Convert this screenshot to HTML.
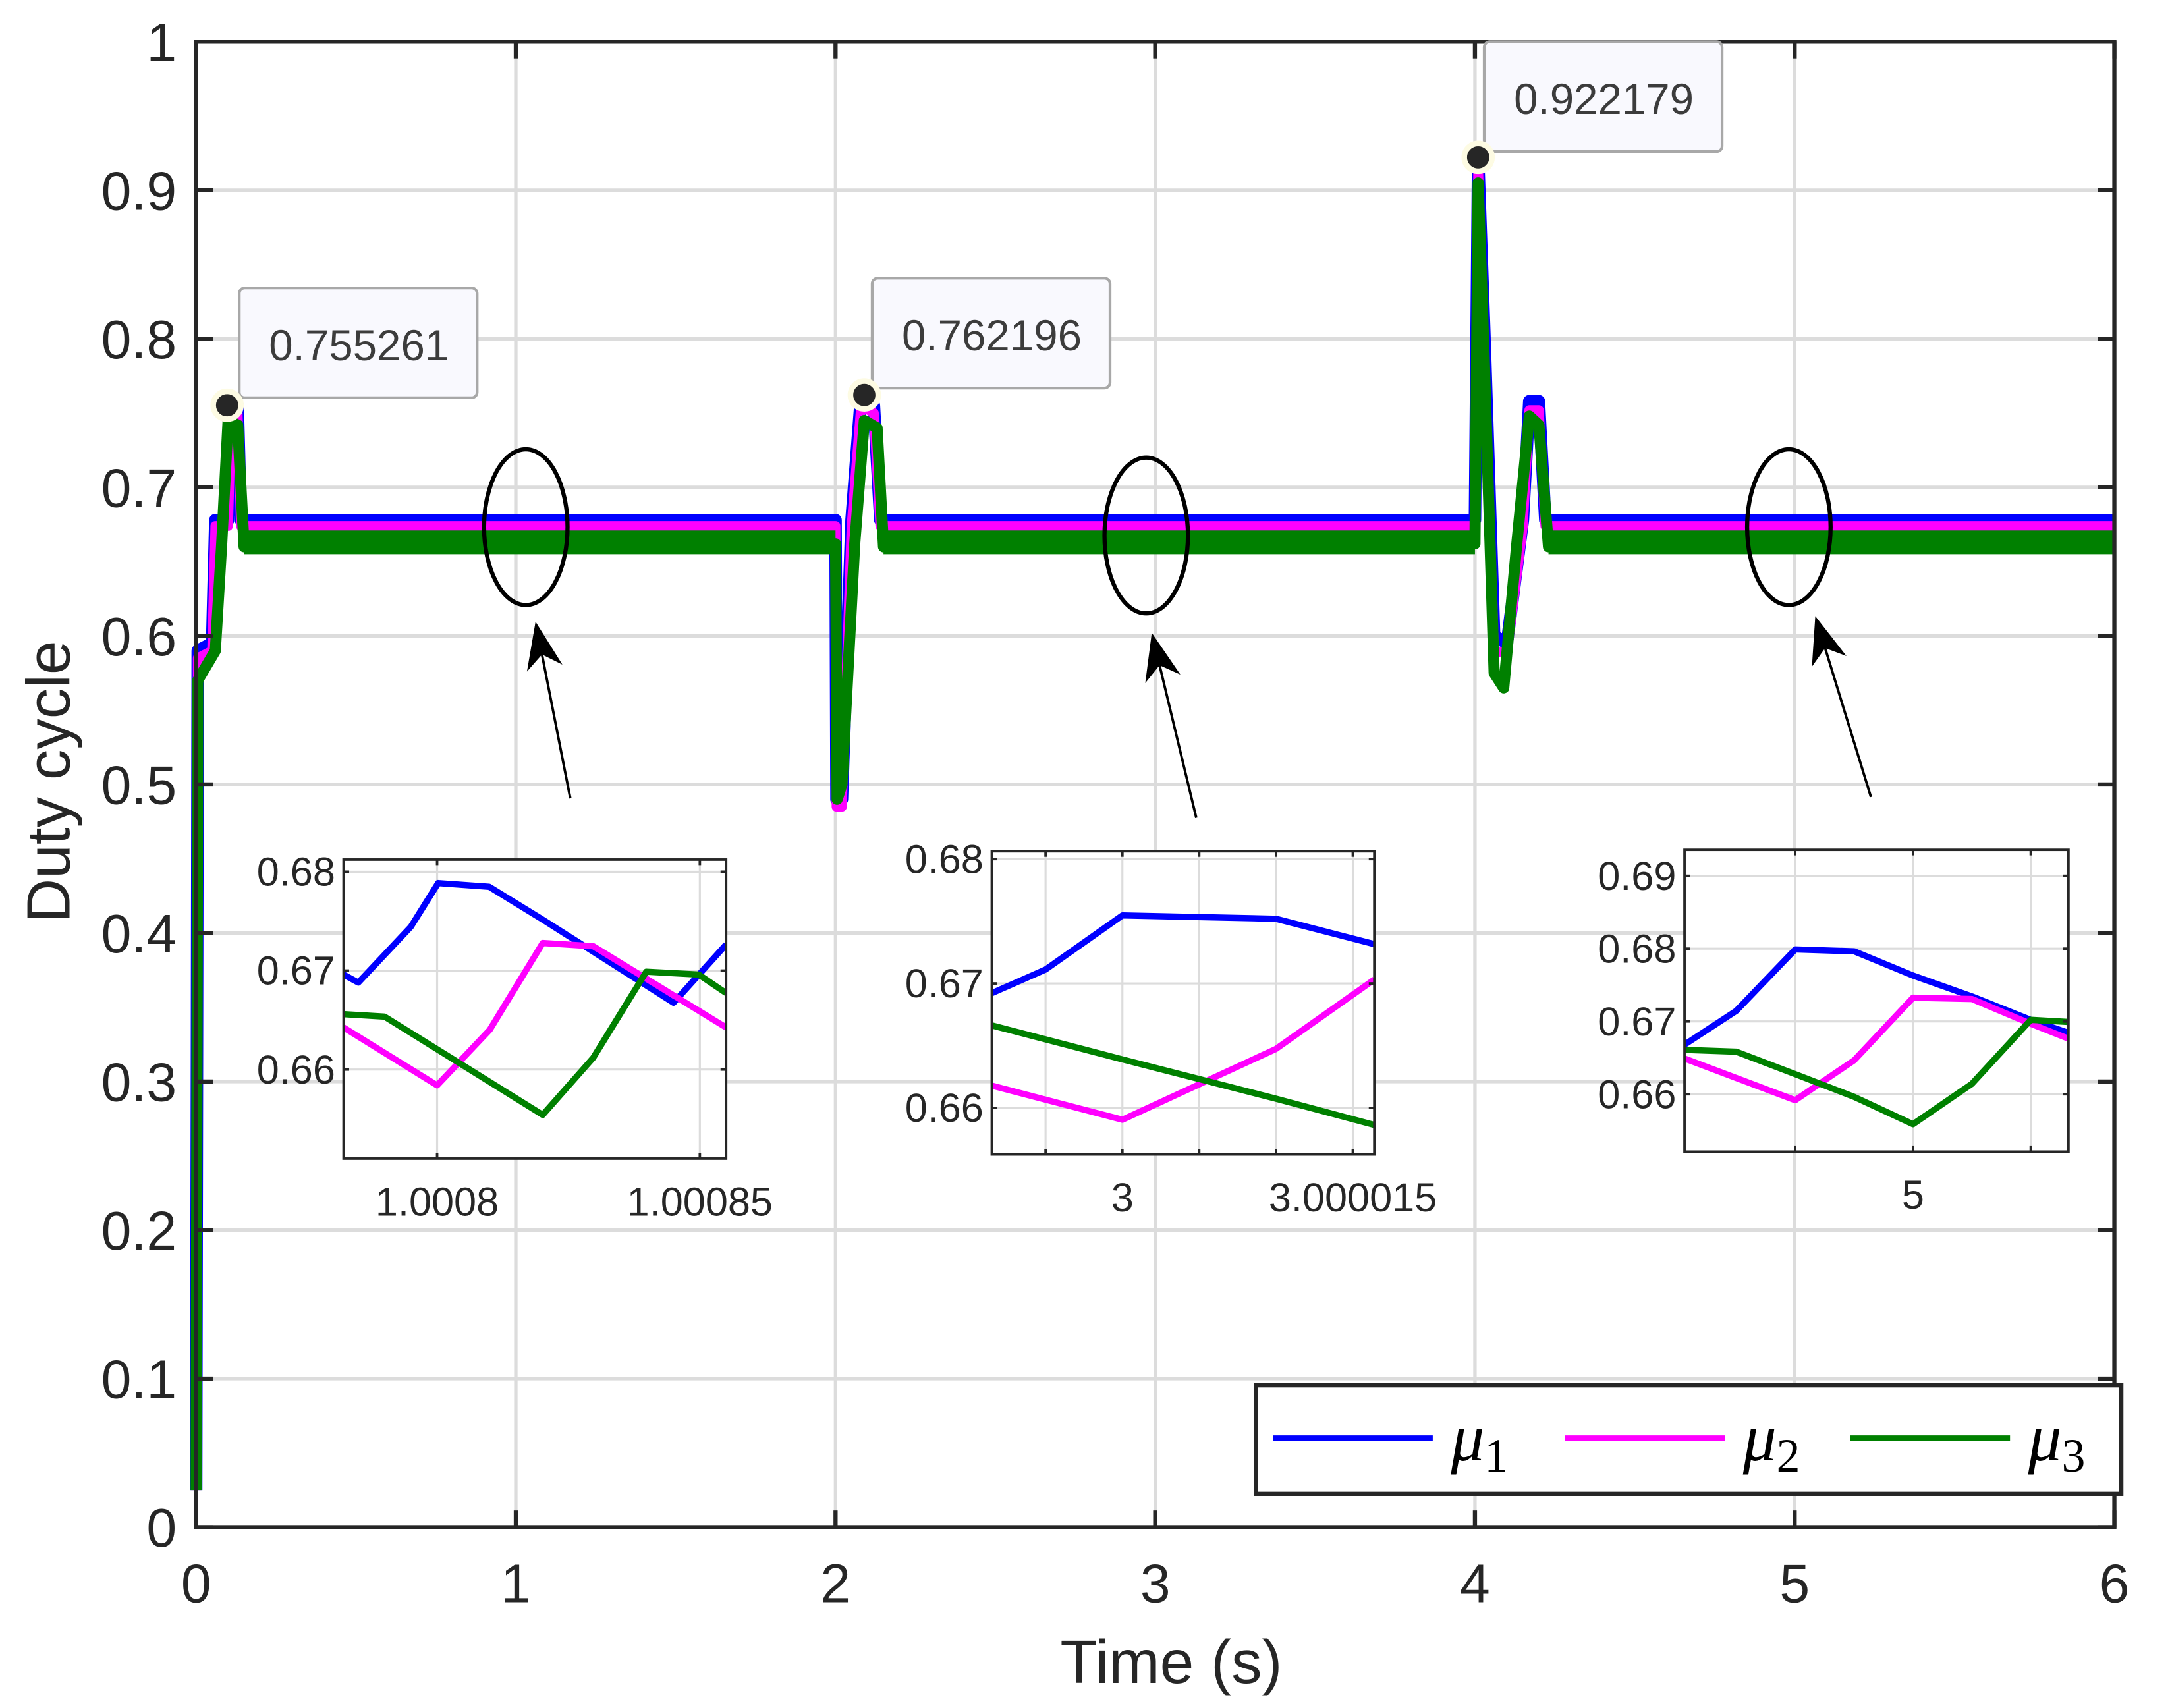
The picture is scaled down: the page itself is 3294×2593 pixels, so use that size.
<!DOCTYPE html>
<html><head><meta charset="utf-8"><style>
html,body{margin:0;padding:0;background:#fff;}
svg{display:block;font-family:"Liberation Sans",sans-serif;}
</style></head><body>
<svg id="chart" width="3294" height="2593" viewBox="0 0 1560 1228" preserveAspectRatio="none" xmlns="http://www.w3.org/2000/svg">
<rect width="1560" height="1228" fill="#fff"/>
<g id="main"></g>
<g id="insets"></g>
<g id="annot"></g>
</svg>
<script>
// ---- main chart data ----
const xTicks = [0,1,2,3,4,5,6];
const yTicks = [0,0.1,0.2,0.3,0.4,0.5,0.6,0.7,0.8,0.9,1];
const yTickLabels = ["0","0.1","0.2","0.3","0.4","0.5","0.6","0.7","0.8","0.9","1"];
const mu1T = [0,0.005,0.05,0.06,0.1,0.11,0.13,0.14,2.0,2.003,2.02,2.05,2.08,2.12,2.14,4.0,4.01,4.03,4.06,4.1,4.15,4.17,4.2,4.22,6];
const mu1V = [0.025,0.59,0.595,0.678,0.678,0.755,0.755,0.678,0.678,0.49,0.49,0.678,0.762,0.755,0.678,0.678,0.922,0.8,0.6,0.595,0.678,0.758,0.758,0.678,0.678];
const mu2T = [0,0.005,0.05,0.06,0.1,0.11,0.13,0.14,2.0,2.003,2.02,2.05,2.08,2.12,2.14,4.0,4.01,4.03,4.06,4.1,4.15,4.17,4.2,4.22,6];
const mu2V = [0.025,0.585,0.59,0.674,0.674,0.75,0.75,0.674,0.674,0.485,0.485,0.674,0.755,0.75,0.674,0.674,0.915,0.79,0.59,0.588,0.674,0.752,0.752,0.674,0.674];
const mu3T = [0,0.005,0.06,0.08,0.1,0.13,0.15,0.2,2.0,2.005,2.02,2.06,2.09,2.13,2.15,2.2,4.0,4.01,4.03,4.06,4.09,4.13,4.17,4.2,4.23,4.3,6];
const mu3V = [0.025,0.57,0.59,0.662,0.745,0.742,0.66,0.662,0.662,0.49,0.5,0.662,0.745,0.74,0.66,0.662,0.662,0.905,0.78,0.575,0.565,0.66,0.748,0.742,0.66,0.662,0.662];
// steady-state noise band of mu3
const bandStart = [0.15,2.15,4.23];
const bandEnd = [2.0,4.0,6.0];
const bandLow = [0.655,0.655,0.655];
const bandHigh = [0.671,0.671,0.671];
// datatips
const tipT = [0.11,2.09,4.01];
const tipV = [0.755261,0.762196,0.922179];
const tipLabels = ["0.755261","0.762196","0.922179"];

// ---- inset data ----
const in1YTicks = [0.66,0.67,0.68];
const in1XGrid = [1.0008,1.00085];
const in1XLabels = ["1.0008","1.00085"];
const in1B_T = [1.0007822,1.000785,1.000795,1.0008002,1.0008099,1.0008197,1.000845,1.000855];
const in1B_V = [0.6696,0.66879,0.67443,0.67885,0.67848,0.67529,0.66675,0.67264];
const in1M_T = [1.0007822,1.0008,1.00081,1.0008201,1.0008297,1.000855];
const in1M_V = [0.66425,0.6584,0.664,0.67279,0.67247,0.66425];
const in1G_T = [1.0007822,1.00079,1.0008201,1.0008297,1.0008398,1.0008498,1.000855];
const in1G_V = [0.6656,0.66535,0.65541,0.66118,0.66989,0.6696,0.66773];

const in2YTicks = [0.66,0.67,0.68];
const in2XGrid = [2.999995,3,3.000005,3.00001,3.000015];
const in2XLabels = ["","3","","","3.000015"];
const in2B_T = [2.9999915,2.999995,3,3.00001,3.0000164];
const in2B_V = [0.66922,0.67112,0.67547,0.6752,0.67316];
const in2M_T = [2.9999915,3,3.00001,3.0000164];
const in2M_V = [0.66179,0.65905,0.66474,0.67032];
const in2G_T = [2.9999915,3,3.00001,3.0000164];
const in2G_V = [0.66663,0.6639,0.66074,0.65863];

const in3YTicks = [0.66,0.67,0.68,0.69];
const in3XGrid = [4.999995,5,5.000005];
const in3XLabels = ["","5",""];
const in3B_T = [4.9999903,4.9999925,4.999995,4.9999975,5,5.0000025,5.000005,5.0000066];
const in3B_V = [0.66681,0.67147,0.67989,0.67964,0.67631,0.67344,0.67022,0.66842];
const in3M_T = [4.9999903,4.999995,4.9999975,5,5.0000025,5.000005,5.0000066];
const in3M_V = [0.66491,0.65918,0.66466,0.67326,0.67308,0.66968,0.66763];
const in3G_T = [4.9999903,4.9999925,4.999995,4.9999975,5,5.0000025,5.000005,5.0000066];
const in3G_V = [0.66609,0.66584,0.66276,0.65964,0.65588,0.66143,0.67022,0.66993];

const NS = "http://www.w3.org/2000/svg";
function mk(tag, attrs, parent){const e=document.createElementNS(NS,tag);for(const k in attrs)e.setAttribute(k,attrs[k]);parent.appendChild(e);return e;}

// main axes
const L=141,R=1520,T=30,B=1098;
const xs=t=>L+(t-0)/6*(R-L);
const ys=v=>B-v*(B-T);
const main=document.getElementById('main');
const grid=mk('g',{},main);


xTicks.forEach(t=>{if(t>0&&t<6){mk('line',{x1:xs(t),x2:xs(t),y1:T,y2:B,stroke:'#dcdcdc','stroke-width':2.5},grid);}});
yTicks.forEach(v=>{if(v>0&&v<1){mk('line',{x1:L,x2:R,y1:ys(v),y2:ys(v),stroke:'#dcdcdc','stroke-width':2.5},grid);}});
function series(T_,V_,color,w,name,parent,xf,yf){
  const p=mk('polyline',{points:T_.map((t,i)=>xf(t)+','+yf(V_[i])).join(' '),fill:'none',stroke:color,'stroke-width':w,'stroke-linejoin':'round','stroke-linecap':'butt'},parent);
  
  
  return p;
}
series(mu1T,mu1V,'#0000ff',9,'mu1-line',main,xs,ys);
series(mu2T,mu2V,'#ff00ff',7,'mu2-line',main,xs,ys);
series(mu3T,mu3V,'#008000',8,'mu3-line',main,xs,ys);
bandStart.forEach((s,i)=>{
  const r=mk('rect',{x:xs(s),y:ys(bandHigh[i]),width:xs(bandEnd[i])-xs(s),height:ys(bandLow[i])-ys(bandHigh[i]),fill:'#008000'},main);
  
  
});
// axes frame + ticks
const ax=mk('g',{},main);


mk('rect',{x:L,y:T,width:R-L,height:B-T,fill:'none',stroke:'#262626','stroke-width':3},ax);
xTicks.forEach((t,i)=>{
  mk('line',{x1:xs(t),x2:xs(t),y1:B,y2:B-12,stroke:'#262626','stroke-width':3},ax);
  mk('line',{x1:xs(t),x2:xs(t),y1:T,y2:T+12,stroke:'#262626','stroke-width':3},ax);
  const tx=mk('text',{x:xs(t),y:1152,'font-size':39,'text-anchor':'middle',fill:'#262626'},ax);
  tx.textContent=String(t);
  
  
});
yTicks.forEach((v,i)=>{
  mk('line',{x1:L,x2:L+12,y1:ys(v),y2:ys(v),stroke:'#262626','stroke-width':3},ax);
  mk('line',{x1:R,x2:R-12,y1:ys(v),y2:ys(v),stroke:'#262626','stroke-width':3},ax);
  const tx=mk('text',{x:127,y:ys(v)+14,'font-size':39,'text-anchor':'end',fill:'#262626'},ax);
  tx.textContent=yTickLabels[i];
  
  
});
const xl=mk('text',{x:842,y:1210,'font-size':44,'text-anchor':'middle',fill:'#262626'},main);
xl.textContent='Time (s)';


const yl=mk('text',{x:0,y:0,'font-size':44,'text-anchor':'middle',fill:'#262626',transform:'translate(50,562) rotate(-90)'},main);
yl.textContent='Duty cycle';



// annotations: ellipses & arrows
const an=document.getElementById('annot');
const ell=[[378,379],[824,385],[1286,379]];
const arr=[[410,574,385,447],[860,588,828,455],[1345,573,1305,443]];
ell.forEach(e=>{const el=mk('ellipse',{cx:e[0],cy:e[1],rx:30,ry:56,fill:'none',stroke:'#000','stroke-width':3},an);

});
arr.forEach(a=>{
  const g=mk('g',{},an);
  
  
  const dx=a[2]-a[0],dy=a[3]-a[1],len=Math.hypot(dx,dy),ux=dx/len,uy=dy/len;
  const bx=a[2]-ux*34,by=a[3]-uy*34,px=-uy,py=ux;
  mk('line',{x1:a[0],y1:a[1],x2:bx+ux*10,y2:by+uy*10,stroke:'#000','stroke-width':1.8},g);
  const nx=a[2]-ux*24,ny=a[3]-uy*24;
  mk('polygon',{points:`${a[2]},${a[3]} ${bx+px*13},${by+py*13} ${nx},${ny} ${bx-px*13},${by-py*13}`,fill:'#000'},g);
});
// datatips
const tipBoxes=[[172,207],[627,200],[1067,30]];
tipT.forEach((t,i)=>{
  const g=mk('g',{},an);
  
  
  const b=tipBoxes[i];
  mk('rect',{x:b[0],y:b[1],width:171,height:79,rx:4,fill:'#f9f9fe',stroke:'#a8a8a8','stroke-width':2},g);
  const tx=mk('text',{x:b[0]+86,y:b[1]+52,'font-size':31,'text-anchor':'middle',fill:'#3c3c3c'},g);
  tx.textContent=tipLabels[i];
  mk('circle',{cx:xs(t)+(i==0?-3:0),cy:ys(tipV[i]),r:10,fill:'#262626',stroke:'#fdfbe3','stroke-width':4},g);
});

// insets
const insets=document.getElementById('insets');
function inset(box,xmin,xmax,ymin,ymax,yT,xG,xLab,B_,M_,G_,name){
  const g=mk('g',{},insets);
  
  
  const [x0,y0,x1,y1]=box;
  const fx=t=>x0+(t-xmin)/(xmax-xmin)*(x1-x0);
  const fy=v=>y1-(v-ymin)/(ymax-ymin)*(y1-y0);
  mk('rect',{x:x0,y:y0,width:x1-x0,height:y1-y0,fill:'#fff'},g);
  xG.forEach(t=>mk('line',{x1:fx(t),x2:fx(t),y1:y0,y2:y1,stroke:'#dcdcdc','stroke-width':1.5},g));
  yT.forEach(v=>mk('line',{x1:x0,x2:x1,y1:fy(v),y2:fy(v),stroke:'#dcdcdc','stroke-width':1.5},g));
  const cp='clip'+name;
  const cl=mk('clipPath',{id:cp},g);mk('rect',{x:x0,y:y0,width:x1-x0,height:y1-y0},cl);
  const sg=mk('g',{'clip-path':`url(#${cp})`},g);
  series(B_[0],B_[1],'#0000ff',4.5,'inset-mu1-line',sg,fx,fy);
  series(M_[0],M_[1],'#ff00ff',4.5,'inset-mu2-line',sg,fx,fy);
  series(G_[0],G_[1],'#008000',4.5,'inset-mu3-line',sg,fx,fy);
  mk('rect',{x:x0,y:y0,width:x1-x0,height:y1-y0,fill:'none',stroke:'#262626','stroke-width':1.8},g);
  yT.forEach(v=>{
    mk('line',{x1:x0,x2:x0+4,y1:fy(v),y2:fy(v),stroke:'#262626','stroke-width':1.8},g);
    mk('line',{x1:x1,x2:x1-4,y1:fy(v),y2:fy(v),stroke:'#262626','stroke-width':1.8},g);
    const tx=mk('text',{x:x0-6,y:fy(v)+10,'font-size':29,'text-anchor':'end',fill:'#262626'},g);
    tx.textContent=v.toFixed(2);
  });
  xG.forEach((t,i)=>{
    mk('line',{x1:fx(t),x2:fx(t),y1:y1,y2:y1-4,stroke:'#262626','stroke-width':1.8},g);
    mk('line',{x1:fx(t),x2:fx(t),y1:y0,y2:y0+4,stroke:'#262626','stroke-width':1.8},g);
    if(xLab[i]){const tx=mk('text',{x:fx(t),y:y1+41,'font-size':29,'text-anchor':'middle',fill:'#262626'},g);tx.textContent=xLab[i];}
  });
}
inset([247,618,522,833],1.0007822,1.000855,0.65099,0.68123,in1YTicks,in1XGrid,in1XLabels,[in1B_T,in1B_V],[in1M_T,in1M_V],[in1G_T,in1G_V],'inset-t1');
inset([713,612,988,830],2.9999915,3.0000164,0.65626,0.68063,in2YTicks,in2XGrid,in2XLabels,[in2B_T,in2B_V],[in2M_T,in2M_V],[in2G_T,in2G_V],'inset-t3');
inset([1211,611,1487,828],4.9999903,5.0000066,0.65211,0.69358,in3YTicks,in3XGrid,in3XLabels,[in3B_T,in3B_V],[in3M_T,in3M_V],[in3G_T,in3G_V],'inset-t5');

// legend
const lg=mk('g',{},an);


mk('rect',{x:903,y:996,width:622,height:78,fill:'#fff',stroke:'#262626','stroke-width':3},lg);
const leg=[['#0000ff',915,'1'],['#ff00ff',1125,'2'],['#008000',1330,'3']];
leg.forEach(e=>{
  const g=mk('g',{},lg);
  
  
  mk('line',{x1:e[1],x2:e[1]+115,y1:1034,y2:1034,stroke:e[0],'stroke-width':4},g);
  const tx=mk('text',{x:e[1]+128,y:1050,'font-size':48,fill:'#000','font-family':'"Liberation Serif",serif','font-style':'italic'},g);
  tx.textContent='μ';
  const sb=mk('tspan',{'font-size':34,'font-style':'normal',dy:8},tx);
  sb.textContent=e[2];
});
</script>
</body></html>
